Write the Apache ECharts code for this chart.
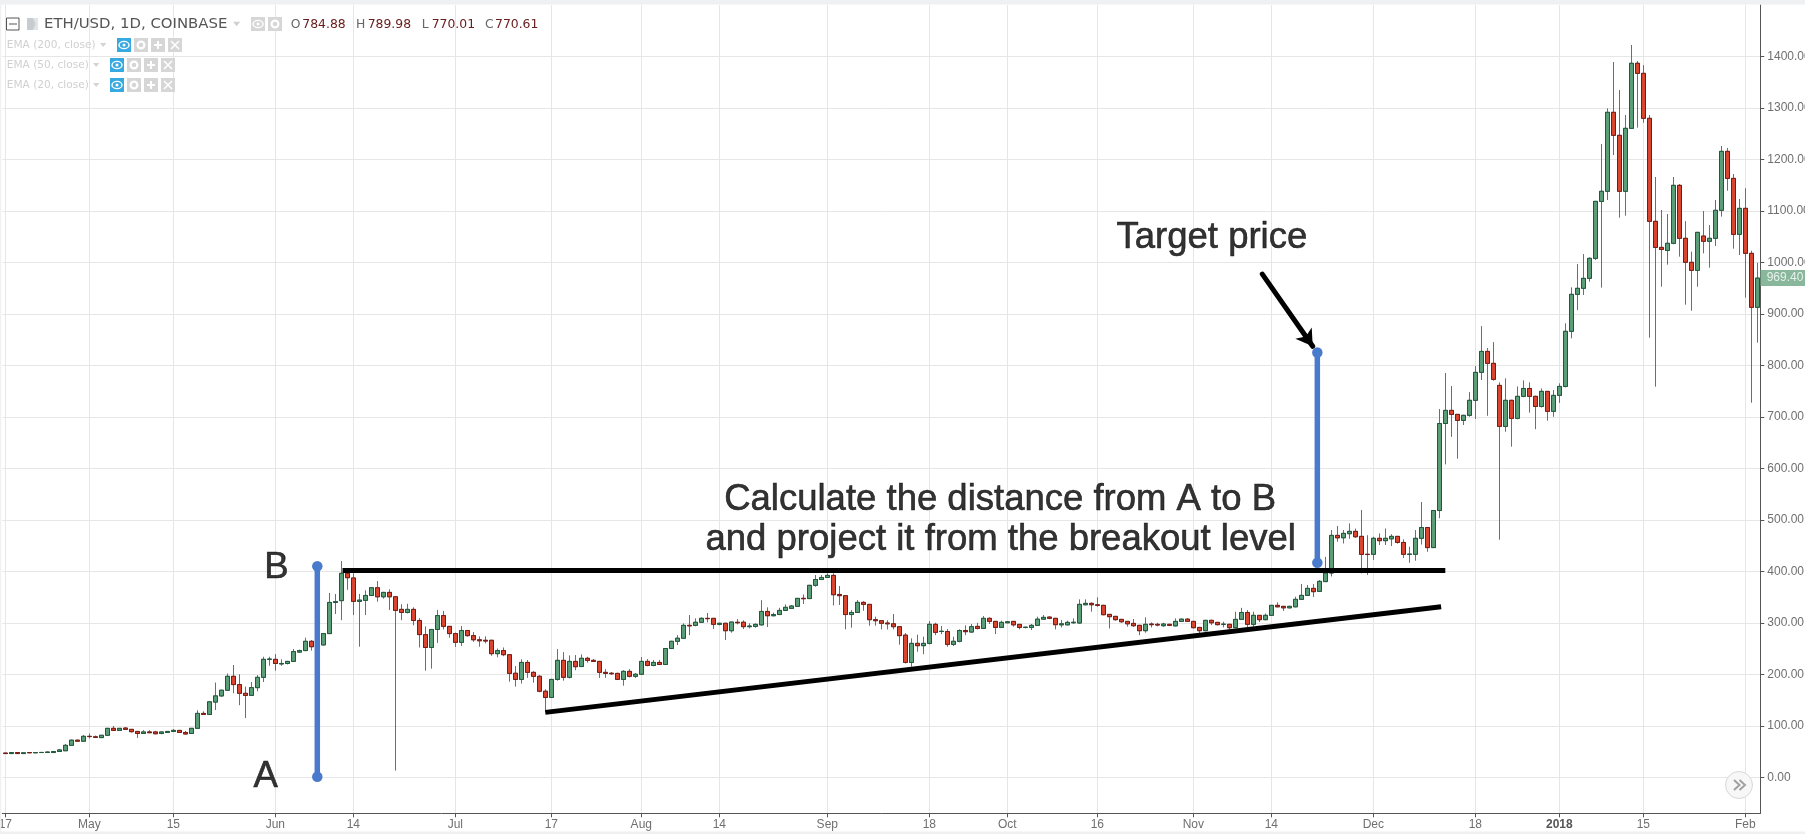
<!DOCTYPE html>
<html><head><meta charset="utf-8">
<style>html,body{margin:0;padding:0;background:#fff}#c{width:1805px;height:834px}</style>
<script src="https://cdn.jsdelivr.net/npm/echarts@6/dist/echarts.min.js"></script>
</head><body><div id="c"></div>
<script>
// open, close, low, high per day from 2017-04-17 to 2018-02-03
const ohlc = [
[47,46,45.5,47.5],[46,48,45.5,48.5],[48,46,45.5,48.5],[46,47.5,45.5,48],[48,47.5,47,48.5],[47.5,48,47,48.5],[48,48.2,47.5,48.5],[48,49,47.5,50],[48,50,47.5,50.5],[50,53,49,55],
[51.5,62,51,64.5],[62,72,61,73],[72,70,69.5,73],[70,79.5,69,82],[79.5,79,75.5,85],[78.5,77.5,77,81],[77,81.5,76.5,82],[81.5,95,81,95.5],[95,91,90.5,99.5],[91,95,90.5,95.5],
[95.5,93,92,97.5],[93,88.5,87,93.5],[89,85,76.5,89.5],[85,88,84,91.5],[88,86.5,85.5,91.5],[88,84.5,83.5,90],[85,88,83.5,88.5],[87,89,86.5,89.5],[89,91,88.5,93.5],[91,87,86.5,91.5],
[87,84,83,90],[85,95,84.5,95.5],[95,124,94.5,130],[124,122,121.5,128],[122,146.5,121.5,147],[146,158,130.5,184],[158,169,156,170],[169,196,168,201.5],[196,180,163,218],[180,163,140,200],
[163,159,115,176],[159,174,158,185],[174,194,167,198.5],[194,229,185,234],[229,229.5,216.5,234],[229,221,207,239],[220,221,216.5,229],[221,225,219,226],[225,244,224,249],[243,246,242,248],
[246,264,245,271],[264,253.5,246,266.5],[253.5,257,250,262],[257,279,256,280],[279,339.5,278,358],[339.5,341,317,356],[343,396,305,420],[396,387.5,364,402],[387,341.5,315,396],[341.5,344,253.5,356],
[343.5,353,315,363],[353,368,352,369],[368,350.5,341,381],[350.5,359,347,360],[359,350.5,325,365],[350.5,324,13,351],[326,320,305,336],[320,326,318,337],[326,304.5,295,330],[304.5,277,252,309],
[277,252,207,293],[252,287,211,288],[287,314,261,325],[314,293,287,323],[293,279,271,294],
[279,262,253,281],[262,285,255,293.7],[285,275,273,286],[275,267,263,282],[267,265,253.5,273.6],[266,264.5,260,273.6],[266,240,236,267],[240,246,233,250],[246,238,235,252],[238,201.7,185.6,239],
[202,190,176,216],[190,223,182,229],[223,203.7,193,227.6],[203.7,196,183.6,206],[196,167,165,198.5],[167,155,126,171],[155,190,154,191],[190,227,187.5,249],[227,194,187.5,243],[194,225,192,236.7],
[225,214.7,208,237.3],[215,231,214,238.6],[231,227,222.5,234],[227,225,224,229.6],[225,203.7,193,226],[203.7,201.7,193,210],[202,201,199,204.3],[201.7,190,189,203],[190,205.6,177.8,208],[205.6,196,194,210],
[196,200,192.7,202.4],[200,225,199,233.5],[225,217,215.5,229.6],[217,223,215.5,227.6],[223,219,218,227.6],[219,250,218,251],[250,264,249,265],[264,270,256.8,276],[270,295,269,298.8],[295,294,276,315],
[295,301,293,308.6],[301,308.6,300,310.5],[308.6,308,300.8,318.9],[308.6,297,287.8,309],[297,299,295,300],[299,284.6,266.5,300],[284.6,301.4,280.7,302],[301,300,297,307.3],[301,292.4,287.8,304.7],[292.4,293.7,289,299],
[293,296.9,290.4,298.8],[296,322,295,344],[322,313.7,291.7,330],[313.7,316,312.5,319.6],[316,324,315,329],[324,330,323,335.7],[328,332.5,327,334.5],[332,347.4,331,348],[347.5,346.7,336.4,355],[347,372.7,346,373.5],
[372.7,384,370,392.7],[384,388,383,392.7],[388,392,387,396],[392,354.5,333.8,396],[355,352.6,334.5,371.4],[352.6,316,287.2,353],[316,320,290.4,324.7],[320,339.6,319,344],[339.6,335.7,323.4,342],[335.7,306,294.3,336.5],
[306,304,294.3,311.8],[304,299,287.2,305],[299.5,298,287.2,305],[298,292.4,287.2,317],[292.4,275,257.4,293],
[276,223,221,280],[223,260,214.7,269.7],[260,255.5,243.8,277],[255.5,260,239,273],[260,297,258,303.4],[297,281.4,276,300],[283,283.5,278,293.7],[283,258,253.5,287.8],[258,264,254.8,273],[264,285,262,287.2],
[285,282.7,276,295],[282,292.4,281,297.6],[293,289,287,300],[289,308.6,288,313],[308.6,302.7,297.6,310.5],[302.7,291,278,303.5],[291,300.8,290,304],[300,302,299,303.5],[302.7,296,292.4,303.5],[296.9,291,287.2,297.5],
[291,291.3,289,292],[291,295,285.9,297.6],[295,307,294,311.8],[307,310.5,306,315],[311,308.6,307,313],[308.6,296.3,287.2,309.5],[296,298,291,305.3],[296,300.8,295,304],[300,301,298,308.6],[299.5,335.7,298,345.5],
[335,337.7,334,345.5],[337.7,335,321.5,339.7],[335,333.8,331,349.4],[333.8,315.7,314.5,335],[316.3,311.8,289,317],[312.4,306,304,313.5],[306.6,302,300,307.5],[302.7,298,292.4,303.5],[298.8,294.3,292,307.3],[295,284.6,276,296],
[284.6,297,280.7,310.5],[297.6,296.3,291,300.8],[297,295.6,293,300],[294.3,297.6,292,300],[297,295,293.5,298],[294,302.7,293,308.6],[302.7,307,302,308],[307,302.7,301.5,309],[302.7,290.4,289,303.5],[291,284.6,279.4,292],
[284.6,304.7,283.5,305.5],[304.7,300,295.6,306],[300.8,296.3,295,301.5],[296.9,297.2,291,302],[297,290.4,286,298],[290.4,306.6,289.5,321.5],[306.6,320,305.5,329],[320,297,291,324.7],[297,314.4,292.4,321.5],[314.4,306,301.4,315],
[306,314.4,305,318],[314.4,333.8,313.5,334.5],[333.8,331,330,339.7],[331.9,329,323,332.5],[329,331.9,328,333],[331,345.5,330,350.6],[345.5,353.2,344.5,375.3],[353.2,366.8,352,373.3],[366.8,360.4,350,375.3],[361,380.4,360,383],
[380,396.6,379,428],
[396.6,469.7,390,480],[469.7,465,457.4,488],[465,473.6,454,480],[473,477.5,463,493],[477.5,467,465,483],[467.8,432.8,396,519],[433,432.5,393,470],[433,464,422,467],[464,459.4,451,473.6],[459.4,464,451,483],
[463,467.8,449,472],[467.8,456,453.6,468.5],[456,433,426,462],[432.8,433.3,416.6,447.7],[433,464,420.5,480],[464,485,452,534.5],[485,446,438,486],[446,518,445,519],[518,687,503,715],[687,712.5,607.6,785],
[712.5,704.7,661,759.8],[704.7,693,618.6,705.5],[693,702.8,684,704],[702.8,732,700,748],[732,786.3,695.7,798.6],[786.3,827,771.4,876],[827,803.8,702,833.6],[803.8,772.7,770,845],[761,681.4,461.3,767],[681.4,732,671,774.7],
[732,697,642,733],[697,739.7,695,759],[739.7,755,738,770.8],[755,739.7,708,767],[739.7,720,676,741],[720,749.4,718,755],[749.4,710.6,692.4,750],[710.6,741.6,700,752],[741.6,759,727,765],[759,866,757,881.5],
[866,937.8,852.4,951.4],[937.8,949.5,907.4,996.7],[949.5,968.9,936.5,1016],[968.9,1007.7,962.4,1009.7],[1007.7,1118.4,1004.5,1119],[1118.4,1137.9,950.8,1229.8],[1137.9,1291.3,1121,1299],[1291.3,1246.6,1208.4,1389],[1246.6,1137.9,1086.7,1334.7],[1137.9,1260.2,1090.6,1286],
[1260.2,1386.5,1259,1422],[1386.5,1367,1261.5,1391],[1367,1279.6,1271,1383],[1279.6,1079.6,853.6,1286],[1079.6,1029,758.5,1165.7],[1029,1025,952.7,1101.6],[1023,1036.9,995.4,1093.8],[1036.9,1149.5,1035,1165.7],[1149.5,1046.6,1011,1152],[1046.6,1000,917.7,1080],
[1000,984.4,906,1020.7],[984.4,1058.2,952.7,1059],[1051,1040.8,1017.4,1099.7],[1040.8,1046.6,989.6,1072.5],[1046.6,1101,1031.7,1121],[1101,1215.5,1088.7,1225.9],[1215.5,1163,1139,1222],[1163,1054.3,1026.5,1171.5],[1054.3,1104.8,1014.2,1123],[1104.8,1017.4,931.3,1143.7],
[1017.4,912.6,727.4,1022.6],[912.6,969.4,844,999]
];
const firstDay = '2017-04-17';
const tickLabels = {
 '2017-04-17':'17','2017-05-01':'May','2017-05-15':'15','2017-06-01':'Jun','2017-06-14':'14','2017-07-01':'Jul','2017-07-17':'17',
 '2017-08-01':'Aug','2017-08-14':'14','2017-09-01':'Sep','2017-09-18':'18','2017-10-01':'Oct','2017-10-16':'16','2017-11-01':'Nov',
 '2017-11-14':'14','2017-12-01':'Dec','2017-12-18':'18','2018-01-01':'2018','2018-01-15':'15','2018-02-01':'Feb'
};
const priceTicks = [0,100,200,300,400,500,600,700,800,900,1000,1100,1200,1300,1400];
const lastPrice = 969.40;
// annotation geometry: [bar number from first day, price]
const resistance = [[56.2,401.7],[240,401.7]];
const trendline = [[90,126],[239.3,331]];
const measureAB = [[52,1],[52,409.6]];
const projection = [[218.67,416.6],[218.67,825]];
const arrowLine = [[209.5,977],[217.9,837]];
const notes = [
 [43.4,1,'A'],[45.2,406.5,'B'],
 [165.8,539.4,'Calculate the distance from A to B'],
 [165.9,461,'and project it from the breakout level'],
 [201.1,1048,'Target price']
];

const categories = ohlc.map((_, i) => {
  const d = new Date(Date.parse(firstDay + 'T00:00:00Z') + i * 864e5);
  return d.toISOString().slice(0, 10);
});
const isTick = (i, v) => v in tickLabels;

const chart = echarts.init(document.getElementById('c'), null, {renderer:'canvas'});

const AXIS = '#555555', GRID = '#e6e6e6', TXT = '#6f6f6f', BLUE = '#4a7acb';
const HEAD = '"DejaVu Sans"';
const g = [];
g.push({type:'rect',shape:{x:0,y:0,width:1805,height:4.5},style:{fill:'#eef0f2'},z:50});
g.push({type:'rect',shape:{x:0,y:831.5,width:1805,height:3},style:{fill:'#eef0f2'},z:50});
g.push({type:'rect',shape:{x:0,y:0,width:1.2,height:834},style:{fill:'#eef0f2'},z:50});
const box = (x,y,w,h,fill) => g.push({type:'rect',shape:{x,y,width:w,height:h},style:{fill},z:60});
const text = (x,y,t,fill,size,extra) => g.push({type:'text',x,y,style:Object.assign({text:t,fill,font:`${size}px ${HEAD}`,verticalAlign:'middle',textAlign:'left'},extra||{}),z:61});
const tri = (x,y,s,fill) => g.push({type:'polygon',shape:{points:[[x,y-s/2],[x+s*1.6,y-s/2],[x+s*.8,y+s/2]]},style:{fill},z:61});
const eye = (x,y,col,bg) => {
  box(x,y-7,14,14,bg);
  g.push({type:'ellipse',shape:{cx:x+7,cy:y,rx:5,ry:3.6},style:{fill:'none',stroke:col,lineWidth:1.4},z:61});
  g.push({type:'circle',shape:{cx:x+7,cy:y,r:1.5},style:{fill:col},z:61});
};
const gear = (x,y) => {
  box(x,y-7,14,14,'#d6d6d6');
  g.push({type:'circle',shape:{cx:x+7,cy:y,r:3.4},style:{fill:'none',stroke:'#fff',lineWidth:2.2},z:61});
};
const plus = (x,y) => {
  box(x,y-7,14,14,'#d6d6d6');
  box(x+3,y-1,8,2,'#fff'); box(x+6,y-4,2,8,'#fff');
};
const cross = (x,y) => {
  box(x,y-7,14,14,'#d6d6d6');
  g.push({type:'line',shape:{x1:x+3,y1:y-4,x2:x+11,y2:y+4},style:{stroke:'#fff',lineWidth:1.6},z:61});
  g.push({type:'line',shape:{x1:x+11,y1:y-4,x2:x+3,y2:y+4},style:{stroke:'#fff',lineWidth:1.6},z:61});
};
// title row
g.push({type:'rect',shape:{x:6.5,y:18,width:12.5,height:12},style:{fill:'none',stroke:'#555',lineWidth:1},z:60});
box(9,23.5,8,1,'#555');
box(27,18,11,12,'#c8ccd0');
g.push({type:'polygon',shape:{points:[[33,18],[38,18],[38,30],[33,30],[35.5,24]]},style:{fill:'#e2e4e6'},z:61});
text(44,24.5,'ETH/USD, 1D, COINBASE','#555555',14.9);
tri(233,24,4.5,'#d0d0d0');
eye(251,24,'#fff','#d6d6d6'); gear(268,24);
const ohlcHead = [[290.7,'O',302.3,'784.88'],[356,'H',367.7,'789.98'],[421.7,'L',431.7,'770.01'],[485,'C',495,'770.61']];
ohlcHead.forEach(r => { text(r[0],24.5,r[1],'#666',12.4); text(r[2],24.5,r[3],'#6b2020',12.4); });
// study rows
[['EMA (200, close)',45,100,117],['EMA (50, close)',65,93,110],['EMA (20, close)',85,93,110]].forEach(r => {
  text(6.7,r[1],r[0],'#d0d0d0',10.6);
  tri(r[2],r[1],4,'#d4d4d4');
  eye(r[3],r[1],'#fff','#37a9e1'); gear(r[3]+17,r[1]); plus(r[3]+34,r[1]); cross(r[3]+51,r[1]);
});
// scroll button
g.push({type:'circle',shape:{cx:1739,cy:785,r:13.5},style:{fill:'#f6f7f6',stroke:'#d8d8d8',lineWidth:1},z:60});
[[1734,1739.5],[1739.5,1745]].forEach(p => {
  g.push({type:'polyline',shape:{points:[[p[0],780],[p[1],785],[p[0],790]]},style:{fill:'none',stroke:'#a0a0a0',lineWidth:2},z:61});
});

const lineSeries = (data,color,width,withDots,z) => ({
  type:'line',xAxisIndex:1,yAxisIndex:0,data,silent:true,z,
  showSymbol:!!withDots,symbol:'circle',symbolSize:10.5,
  lineStyle:{color,width,cap:'butt'},itemStyle:{color},animation:false,clip:false
});

chart.setOption({
  animation:false,
  backgroundColor:'#ffffff',
  textStyle:{fontFamily:'"Liberation Sans"'},
  grid:{left:2.3,top:4.85,width:1758,height:808.45,containLabel:false,show:false,outerBoundsMode:'none'},
  graphic:g,
  xAxis:[{
    type:'category',data:categories,boundaryGap:true,
    axisLine:{show:true,onZero:false,lineStyle:{color:AXIS,width:1}},
    axisTick:{show:true,alignWithLabel:true,interval:isTick,length:4,lineStyle:{color:AXIS}},
    splitLine:{show:true,interval:isTick,alignWithLabel:true,lineStyle:{color:GRID,width:1}},
    axisLabel:{interval:isTick,margin:5,color:TXT,fontSize:12,hideOverlap:false,showMinLabel:true,showMaxLabel:true,
      formatter:v => v === '2018-01-01' ? '{b|2018}' : (tickLabels[v]||''),
      rich:{b:{fontWeight:'bold',fontSize:12,color:'#555'}}}
  },{
    type:'value',min:-0.5,max:292.5,show:false,splitLine:{show:false}
  }],
  yAxis:[{
    type:'value',position:'right',min:-70,max:1500,
    axisLine:{show:true,onZero:false,lineStyle:{color:AXIS,width:1}},
    axisTick:{show:true,length:4,lineStyle:{color:AXIS},customValues:priceTicks},
    splitLine:{show:true,lineStyle:{color:GRID,width:1}},
    axisLabel:{margin:7,color:TXT,fontSize:12,customValues:priceTicks,formatter:v => v.toFixed(2)}
  }],
  series:[
    {type:'candlestick',name:'wick',barWidth:4,silent:true,z:2,data:ohlc,
     itemStyle:{color:'#6e6e6e',color0:'#6e6e6e',borderColor:'#6e6e6e',borderColor0:'#6e6e6e',borderColorDoji:'#6e6e6e',borderWidth:1}},
    {type:'candlestick',name:'body',barWidth:4,silent:true,z:3,
     data:ohlc.map(r => [r[0],r[1],Math.min(r[0],r[1]),Math.max(r[0],r[1])]),
     itemStyle:{color:'#5a9e78',color0:'#d9452f',borderColor:'#1e5a3a',borderColor0:'#7c1a12',borderColorDoji:'#1e5a3a',borderWidth:1}},
    lineSeries(resistance,'#000',5,false,5),
    lineSeries(trendline,'#000',5,false,5),
    lineSeries(measureAB,BLUE,5.5,true,6),
    lineSeries(projection,BLUE,5.5,true,6),
    {type:'line',xAxisIndex:1,yAxisIndex:0,data:[],silent:true,z:7,
     markLine:{silent:true,animation:false,symbol:['none','arrow'],symbolSize:[15,16],label:{show:false},
       lineStyle:{color:'#000',width:5,type:'solid',cap:'round'},
       data:[[{coord:arrowLine[0]},{coord:arrowLine[1]}]]}},
    {type:'scatter',xAxisIndex:1,yAxisIndex:0,data:notes,symbolSize:0,silent:true,z:8,clip:false,
     encode:{x:0,y:1},
     label:{show:true,position:'inside',color:'#000',fontFamily:'"Liberation Sans"',fontSize:36.5,
       textBorderColor:'#000',textBorderWidth:0.6,
       formatter:p => p.data[2]}},
    {type:'scatter',xAxisIndex:1,yAxisIndex:0,data:[[292.5,lastPrice]],symbolSize:0,silent:true,z:9,clip:false,
     label:{show:true,position:'right',distance:0,formatter:p => p.data[1].toFixed(2),
       backgroundColor:'#6ba583',color:'#fff',fontSize:12,fontFamily:'"Liberation Sans"',
       padding:[2,0,2,6.4],width:38.3,height:12,lineHeight:12,align:'left'}}
  ]
});
</script></body></html>
